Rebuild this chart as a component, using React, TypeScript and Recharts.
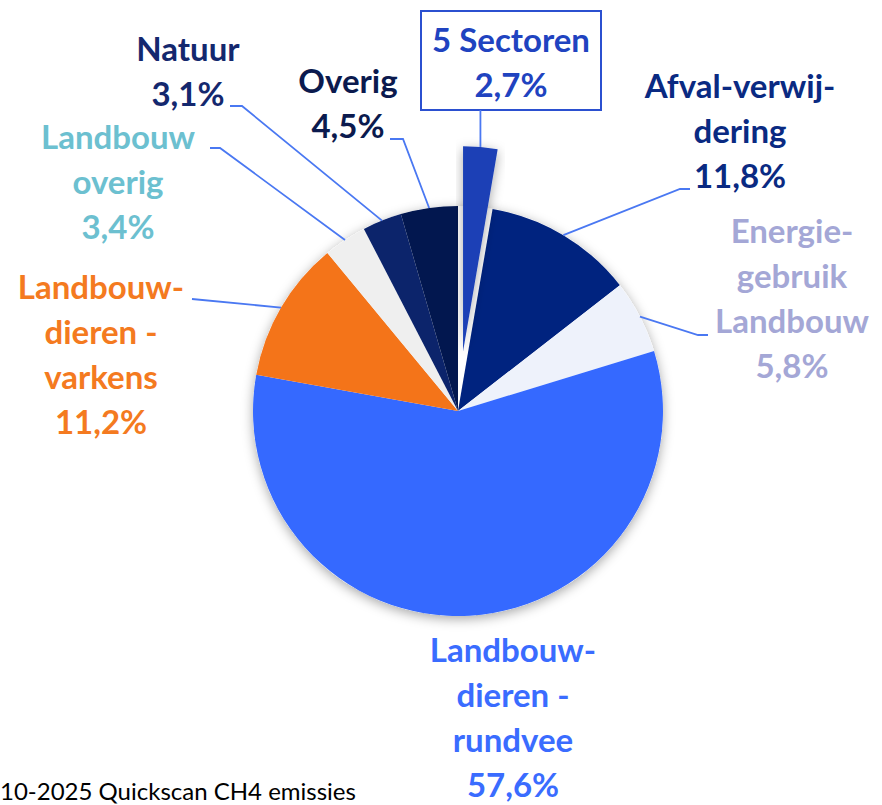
import React from 'react';
import { PieChart, Pie, Cell } from 'recharts';

// ---------- data ----------
const categories: string[][] = [
  ['5 Sectoren'],
  ['Afval-verwij-', 'dering'],
  ['Energie-', 'gebruik', 'Landbouw'],
  ['Landbouw-', 'dieren -', 'rundvee'],
  ['Landbouw-', 'dieren -', 'varkens'],
  ['Landbouw', 'overig'],
  ['Natuur'],
  ['Overig'],
];
const shares: number[] = [2.7, 11.8, 5.8, 57.6, 11.2, 3.4, 3.1, 4.5];
const footnote = '10-2025 Quickscan CH4 emissies';

// ---------- styles ----------
const sliceColors = ['#1a3fb6', '#00237f', '#eef2fb', '#3569ff', '#f47419', '#efefef', '#0c246b', '#02174f'];
const labelColors = ['#2043c0', '#0a2a82', '#a4a7d6', '#3a6cff', '#f47a20', '#6cc0d0', '#14286e', '#0b1a4e'];
const LEADER = '#4a78f2';
const FONT = 'Lato, "Open Sans", sans-serif';
const FONT_SIZE = 33;
const LINE_H = 45;

const W = 882;
const H = 805;
const CX = 458;
const CY = 411;
const R = 205;
const EXPLODED = 0;
const EXPLODE = 60;

type Layout = {
  x: number;
  y: number;
  box?: { x: number; y: number; w: number; h: number };
  path?: [number, number][];
};
const labelLayout: Layout[] = [
  { x: 511, y: 52, box: { x: 421, y: 11, w: 180, h: 99 } },
  { x: 740, y: 98, path: [[680, 189], [690, 189]] },
  { x: 792, y: 243, path: [[698, 335], [708, 335]] },
  { x: 513, y: 662 },
  { x: 101, y: 299, path: [[192, 299]] },
  { x: 118, y: 149, path: [[220, 148], [210, 148]] },
  { x: 188, y: 61, path: [[242, 106], [230, 106]] },
  { x: 348, y: 93, path: [[403, 139], [390, 139]] },
];

const pct = (v: number) => v.toFixed(1).replace('.', ',') + '%';

const data = categories.map((lines, i) => ({ name: lines.join(' '), value: shares[i] }));

const RAD = Math.PI / 180;
const explodeAngle = (() => {
  const total = shares.reduce((a, b) => a + b, 0);
  let before = 0;
  for (let i = 0; i < EXPLODED; i++) before += shares[i];
  const midFrac = (before + shares[EXPLODED] / 2) / total;
  return 90 - midFrac * 360; // recharts angle convention
})();
const exCX = CX + EXPLODE * Math.cos(explodeAngle * RAD);
const exCY = CY - EXPLODE * Math.sin(explodeAngle * RAD);

const renderLabel = (p: any) => {
  const i: number = p.index;
  const L = labelLayout[i];
  const ang = -p.midAngle * RAD;
  const rr = p.outerRadius + (i === EXPLODED ? EXPLODE : 0);
  const ex = p.cx + rr * Math.cos(ang);
  const ey = p.cy + rr * Math.sin(ang);
  const lines = [...categories[i], pct(shares[i])];
  let leader: React.ReactNode = null;
  if (L.box) {
    leader = (
      <g>
        <rect x={L.box.x} y={L.box.y} width={L.box.w} height={L.box.h} fill="#fff" stroke="#2b50d0" strokeWidth={2} />
        <line x1={ex} y1={L.box.y + L.box.h} x2={ex} y2={ey} stroke={LEADER} strokeWidth={1.8} />
      </g>
    );
  } else if (L.path) {
    const pts = [[ex, ey], ...L.path].map((q) => q.join(',')).join(' ');
    leader = <polyline points={pts} fill="none" stroke={LEADER} strokeWidth={1.8} />;
  }
  return (
    <g key={`lab-${i}`}>
      {leader}
      <text
        x={L.x}
        y={L.y}
        textAnchor="middle"
        fill={labelColors[i]}
        fontFamily={FONT}
        fontWeight={700}
        fontSize={FONT_SIZE}
      >
        {lines.map((t, k) => (
          <tspan key={k} x={L.x} dy={k === 0 ? 0 : LINE_H}>
            {t}
          </tspan>
        ))}
      </text>
    </g>
  );
};

export default function App() {
  return (
    <div style={{ position: 'absolute', left: 0, top: 0, width: W, height: H, background: '#fff' }}>
      <PieChart width={W} height={H} margin={{ top: 0, right: 0, bottom: 0, left: 0 }}>
        <defs>
          <filter id="pieShadow" x="-20%" y="-20%" width="140%" height="140%">
            <feDropShadow dx="0" dy="3" stdDeviation="6" floodColor="#000" floodOpacity="0.35" />
          </filter>
        </defs>
        <Pie
          data={[{ name: 'bg', value: 1 }]}
          dataKey="value"
          cx={CX}
          cy={CY}
          outerRadius={R}
          startAngle={90}
          endAngle={-270}
          stroke="none"
          isAnimationActive={false}
          label={false}
          labelLine={false}
        >
          <Cell fill="#ffffff" filter="url(#pieShadow)" />
        </Pie>
        <Pie
          data={data}
          dataKey="value"
          cx={CX}
          cy={CY}
          outerRadius={R}
          startAngle={90}
          endAngle={-270}
          stroke="none"
          isAnimationActive={false}
          labelLine={false}
          label={renderLabel}
        >
          {data.map((d, i) => (
            <Cell key={i} fill={i === EXPLODED ? 'none' : sliceColors[i]} />
          ))}
        </Pie>
        <Pie
          data={data}
          dataKey="value"
          cx={exCX}
          cy={exCY}
          outerRadius={R}
          startAngle={90}
          endAngle={-270}
          stroke="none"
          isAnimationActive={false}
          label={false}
          labelLine={false}
        >
          {data.map((d, i) => (
            <Cell
              key={i}
              fill={i === EXPLODED ? sliceColors[i] : 'none'}
              filter={i === EXPLODED ? 'url(#pieShadow)' : undefined}
            />
          ))}
        </Pie>
      </PieChart>
      <div
        style={{
          position: 'absolute',
          left: 0,
          top: 776,
          fontFamily: FONT,
          fontSize: 24,
          color: '#000',
          whiteSpace: 'nowrap',
          lineHeight: '30px',
        }}
      >
        {footnote}
      </div>
    </div>
  );
}
